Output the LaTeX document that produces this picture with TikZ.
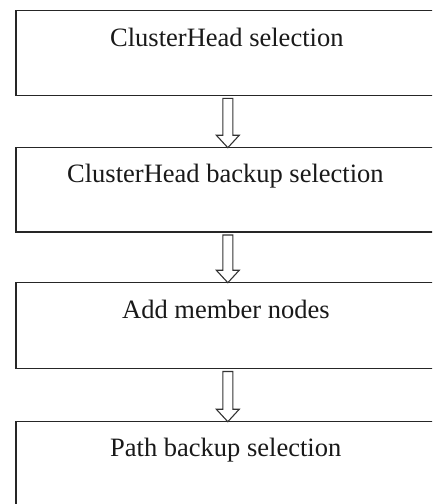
\documentclass[tikz,border=0pt]{standalone}
\usepackage{fontspec}
\setmainfont{Liberation Serif}
\usetikzlibrary{calc}
\tikzset{
  stagebox/.style={draw=black!85, line width=1.6pt, rectangle, inner sep=0pt,
    minimum width=430pt, anchor=north west},
  stagelabel/.style={anchor=base west, inner sep=0pt, text=black!90,
    font=\fontsize{26.5}{30}\selectfont},
  flowarrow/.style={draw=black!80, line width=1.1pt, fill=white, line join=miter},
}
\newcommand{\flowarr}[2]{%
  \path[flowarrow] let \p1=(#1.south), \p2=(#2.north), \n1={\x1-3pt} in
    (\n1-5pt,\y1-2.2pt) -- (\n1-5pt,\y2+11.5pt) -- (\n1-11.5pt,\y2+11.5pt)
    -- (\n1,\y2-1pt) -- (\n1+11.5pt,\y2+11.5pt) -- (\n1+5pt,\y2+11.5pt)
    -- (\n1+5pt,\y1-2.2pt) -- cycle;}
\begin{document}
\begin{tikzpicture}[x=1pt,y=-1pt]
\useasboundingbox (0,0) rectangle (432,504);
\clip (0,0) rectangle (432,504);
\fill[white] (0,0) rectangle (432,504);
\node[stagebox, minimum height=85pt] (b1) at (15,9.5) {};
\node[stagebox, minimum height=84.5pt] (b2) at (15,146.7) {};
\node[stagebox, minimum height=86pt] (b3) at (15,281.7) {};
\node[stagebox, minimum height=100pt] (b4) at (15,420.7) {};
\node[stagelabel] (t1) at (110,46) {ClusterHead selection};
\node[stagelabel] (t2) at (67,182) {ClusterHead backup selection};
\node[stagelabel] (t3) at (122,318) {Add member nodes};
\node[stagelabel] (t4) at (110,456.7) {Path backup selection};
\flowarr{b1}{b2}
\flowarr{b2}{b3}
\flowarr{b3}{b4}
\end{tikzpicture}
\end{document}
